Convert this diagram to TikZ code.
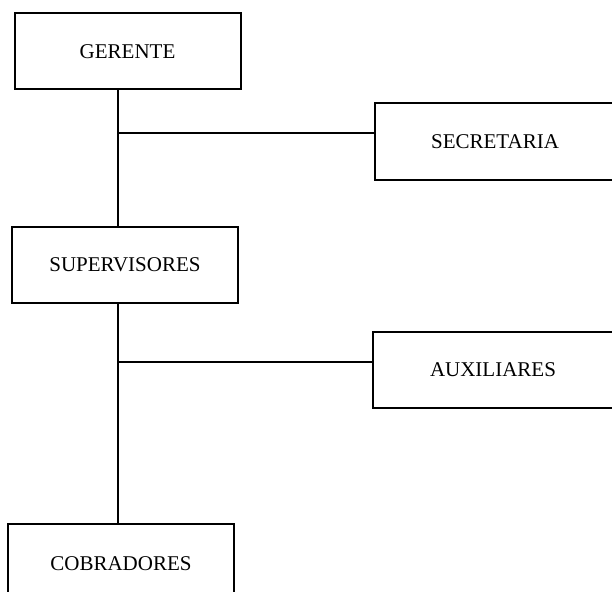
\documentclass[tikz,border=0pt]{standalone}
\usepackage{fontspec}
\setmainfont{Liberation Serif}
\usetikzlibrary{positioning}

\tikzset{
  cargo/.style={draw, line width=2pt, rectangle, minimum width=226pt, minimum height=76pt,
    inner sep=0pt, font=\fontsize{21}{25}\selectfont},
  cargolat/.style={cargo, minimum width=240pt},
  linea/.style={line width=2.2pt}
}

\begin{document}
\begin{tikzpicture}
\clip (0,0) rectangle (612pt,-591pt);
\node [cargo] (gerente) at (127.5pt,-51.5pt) {GERENTE};
\node [cargo, below=135pt of gerente, xshift=-2.5pt] (super) {SUPERVISORES};
\node [cargo, below=219pt of super, xshift=-4pt, minimum height=80pt] (cobra) {COBRADORES};
%----------------------------------
\node [cargolat] (secre) at (495pt,-141.5pt) {SECRETARIA};
\node [cargolat] (auxi) at (493pt,-369.5pt) {AUXILIARES};
%----------------------------------
\coordinate (j1) at (118pt,-133pt);
\coordinate (j2) at (118pt,-362pt);
\draw [linea] (j1 |- gerente.south) -- (j1 |- super.north);
\draw [linea] (j1) -- (secre.west |- j1);
%---------------------------------
\draw [linea] (j2 |- super.south) -- (j2 |- cobra.north);
\draw [linea] (j2) -- (auxi.west |- j2);
\end{tikzpicture}
\end{document}
